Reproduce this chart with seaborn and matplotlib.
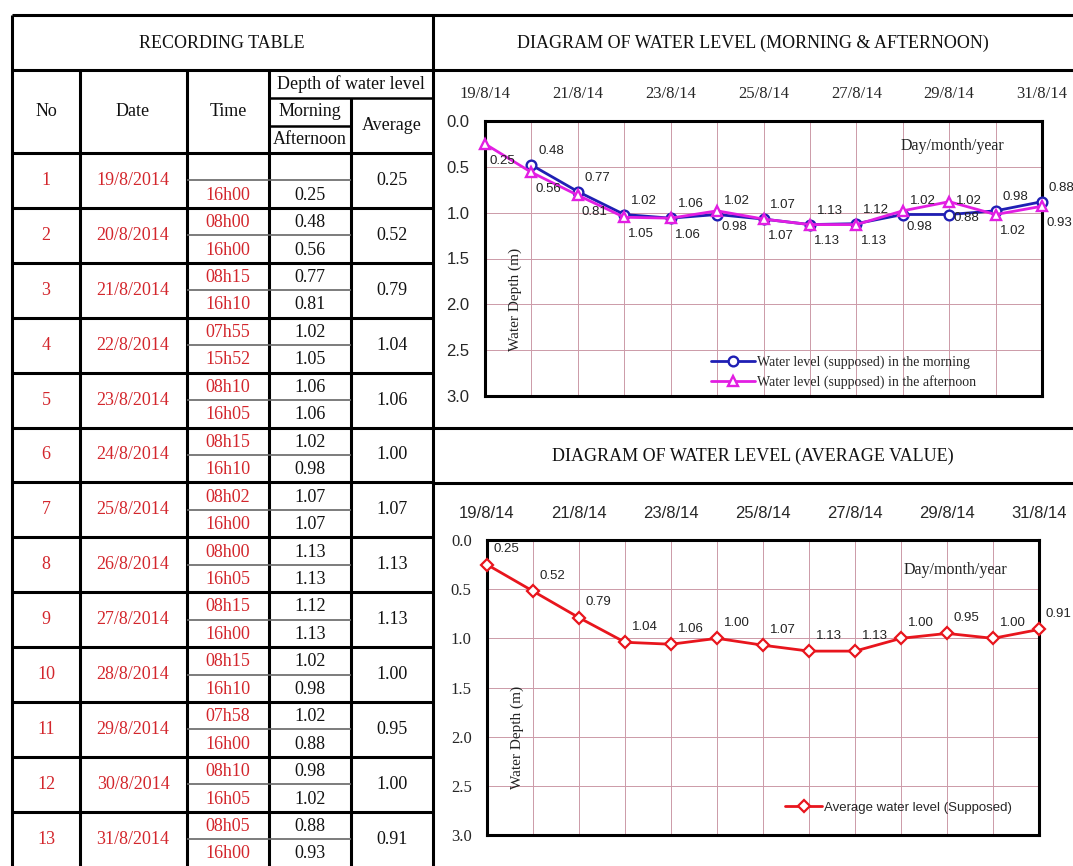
import numpy as np
import pandas as pd
import seaborn as sns
import matplotlib.pyplot as plt

# recorded data (table + diagrams)
dates = ['19/8/2014', '20/8/2014', '21/8/2014', '22/8/2014', '23/8/2014', '24/8/2014', '25/8/2014',
         '26/8/2014', '27/8/2014', '28/8/2014', '29/8/2014', '30/8/2014', '31/8/2014']
day_ticks = ['19/8/14', '', '21/8/14', '', '23/8/14', '', '25/8/14', '', '27/8/14', '', '29/8/14', '', '31/8/14']
morning_time = ['', '08h00', '08h15', '07h55', '08h10', '08h15', '08h02', '08h00', '08h15', '08h15', '07h58', '08h10', '08h05']
afternoon_time = ['16h00', '16h00', '16h10', '15h52', '16h05', '16h10', '16h00', '16h05', '16h00', '16h10', '16h00', '16h05', '16h00']
morning = [np.nan, 0.48, 0.77, 1.02, 1.06, 1.02, 1.07, 1.13, 1.12, 1.02, 1.02, 0.98, 0.88]
afternoon = [0.25, 0.56, 0.81, 1.05, 1.06, 0.98, 1.07, 1.13, 1.13, 0.98, 0.88, 1.02, 0.93]
average = [0.25, 0.52, 0.79, 1.04, 1.06, 1.00, 1.07, 1.13, 1.13, 1.00, 0.95, 1.00, 0.91]
depth_ticks = [0.0, 0.5, 1.0, 1.5, 2.0, 2.5, 3.0]

sns.set_style('white')
plt.rcParams['font.family'] = ['Liberation Serif', 'DejaVu Serif']
SERIF = 'Liberation Serif'
SANS = 'Liberation Sans'
RED_TXT = '#d3262c'
BLUE = '#1f1fb4'
MAGENTA = '#e21ee2'
RED = '#e8151d'
GRID = '#cc9aa8'

fig = plt.figure(figsize=(10.73, 8.66), dpi=100)

# background axes in pixel coords for the table and frames
bg = fig.add_axes([0, 0, 1, 1])
bg.set_xlim(0, 1073)
bg.set_ylim(866, 0)
bg.axis('off')

thick = dict(color='black', lw=2.2)
cols = [12, 80, 187, 269, 351, 433]
row_top = 153
row_h = 54.9
n = len(dates)

bg.hlines([15, 70], 12, 1073, **thick)
bg.vlines([12, 433], 15, 866, **thick)
bg.hlines([428, 483], 433, 1073, **thick)
bg.vlines(cols[1:4], 70, 866, **thick)
bg.vlines(351, 98, 866, **thick)
bg.hlines(98, 269, 433, color='black', lw=1.8)
bg.hlines(126, 269, 351, color='black', lw=1.8)

row_edges = [row_top + i * row_h for i in range(n)]
bg.hlines(row_edges, 12, 433, **thick)
bg.hlines([r + row_h / 2 for r in row_edges], 187, 351, color='#666666', lw=1.2)

tkw = dict(ha='center', va='center', fontsize=13, family=SERIF)
bg.text(222, 43, 'RECORDING TABLE', color='#111111', **tkw)
bg.text(753, 43, 'DIAGRAM OF WATER LEVEL (MORNING & AFTERNOON)', color='#111111', **tkw)
bg.text(753, 456, 'DIAGRAM OF WATER LEVEL (AVERAGE VALUE)', color='#111111', **tkw)
bg.text(46, 111, 'No', color='#111111', **tkw)
bg.text(133, 111, 'Date', color='#111111', **tkw)
bg.text(228, 111, 'Time', color='#111111', **tkw)
bg.text(351, 84, 'Depth of water level', color='#111111', **tkw)
bg.text(310, 112, 'Morning', color='#111111', **tkw)
bg.text(310, 140, 'Afternoon', color='#111111', **tkw)
bg.text(392, 126, 'Average', color='#111111', **tkw)

for i in range(n):
    top = row_edges[i]
    mid = top + row_h / 2
    bg.text(46, mid, str(i + 1), color=RED_TXT, **tkw)
    bg.text(133, mid, dates[i], color=RED_TXT, **tkw)
    bg.text(228, top + row_h * 0.25 + 1, morning_time[i], color=RED_TXT, **tkw)
    bg.text(228, top + row_h * 0.75 + 1, afternoon_time[i], color=RED_TXT, **tkw)
    if not np.isnan(morning[i]):
        bg.text(310, top + row_h * 0.25 + 1, f'{morning[i]:.2f}', color='#111111', **tkw)
    bg.text(310, top + row_h * 0.75 + 1, f'{afternoon[i]:.2f}', color='#111111', **tkw)
    bg.text(392, mid, f'{average[i]:.2f}', color='#111111', **tkw)

df = pd.DataFrame({'day': range(n), 'morning': morning, 'afternoon': afternoon, 'average': average})


def style_axes(ax, xfont, yfont):
    ax.set_xlim(0, n - 1)
    ax.set_ylim(3, 0)
    ax.set_xticks(range(n))
    ax.set_xticklabels(day_ticks, fontfamily=xfont, fontsize=12)
    ax.set_yticks(depth_ticks)
    ax.set_yticklabels([f'{t:.1f}' for t in depth_ticks], fontfamily=yfont, fontsize=12)
    ax.xaxis.tick_top()
    ax.tick_params(axis='x', length=0, pad=14)
    ax.tick_params(axis='y', length=0, pad=11)
    ax.grid(True, color=GRID, lw=0.7)
    ax.set_axisbelow(True)
    for sp in ax.spines.values():
        sp.set_color('black')
        sp.set_linewidth(2.2)
        sp.set_zorder(3)
    ax.set_xlabel('')
    ax.set_ylabel('')


# morning & afternoon diagram
ax1 = fig.add_axes([485 / 1073, 1 - 396 / 866, (1042 - 485) / 1073, (396 - 121) / 866])
sns.lineplot(data=df, x='day', y='morning', ax=ax1, color=BLUE, lw=2, marker='o', markersize=7,
             markerfacecolor='white', markeredgecolor=BLUE, markeredgewidth=1.7, clip_on=False,
             label='Water level (supposed) in the morning', zorder=4)
sns.lineplot(data=df, x='day', y='afternoon', ax=ax1, color=MAGENTA, lw=2, marker='^', markersize=7.5,
             markerfacecolor='white', markeredgecolor=MAGENTA, markeredgewidth=1.7, clip_on=False,
             label='Water level (supposed) in the afternoon', zorder=5)
style_axes(ax1, SERIF, SANS)
for i in range(n):
    if not np.isnan(morning[i]):
        ax1.annotate(f'{morning[i]:.2f}', (i, morning[i]), xytext=(5, 10), textcoords='offset points',
                     ha='left', va='center', fontsize=9.5, family=SANS, color='#222222', zorder=6)
    ax1.annotate(f'{afternoon[i]:.2f}', (i, afternoon[i]), xytext=(3, -12), textcoords='offset points',
                 ha='left', va='center', fontsize=9.5, family=SANS, color='#222222', zorder=6)
ax1.text(0.84, 0.91, 'Day/month/year', transform=ax1.transAxes, ha='center', va='center',
         fontsize=11.5, family=SERIF, color='#222222')
ax1.text(0.054, 0.35, 'Water Depth (m)', transform=ax1.transAxes, ha='center', va='center',
         rotation=90, fontsize=11, family=SERIF, color='#222222')
ax1.legend(loc='center left', bbox_to_anchor=(0.405, 0.087), frameon=False,
           prop={'family': SERIF, 'size': 10}, handlelength=3.2, handletextpad=0.15,
           labelspacing=0.4, borderaxespad=0, borderpad=0)

# average diagram
ax2 = fig.add_axes([487 / 1073, 1 - 835 / 866, (1039 - 487) / 1073, (835 - 540) / 866])
sns.lineplot(data=df, x='day', y='average', ax=ax2, color=RED, lw=2, marker='D', markersize=6,
             markerfacecolor='white', markeredgecolor=RED, markeredgewidth=1.6, clip_on=False,
             label='Average water level (Supposed)', zorder=4)
style_axes(ax2, SANS, SERIF)
for i in range(n):
    ax2.annotate(f'{average[i]:.2f}', (i, average[i]), xytext=(5, 11), textcoords='offset points',
                 ha='left', va='center', fontsize=9.5, family=SANS, color='#222222', zorder=6)
ax2.text(0.848, 0.898, 'Day/month/year', transform=ax2.transAxes, ha='center', va='center',
         fontsize=11.5, family=SERIF, color='#222222')
ax2.text(0.054, 0.33, 'Water Depth (m)', transform=ax2.transAxes, ha='center', va='center',
         rotation=90, fontsize=11, family=SERIF, color='#222222')
ax2.legend(loc='center left', bbox_to_anchor=(0.54, 0.092), frameon=False,
           prop={'family': SANS, 'size': 9.5}, handlelength=2.8, handletextpad=0.15,
           borderaxespad=0, borderpad=0)

fig.savefig('out.png', dpi=100)
